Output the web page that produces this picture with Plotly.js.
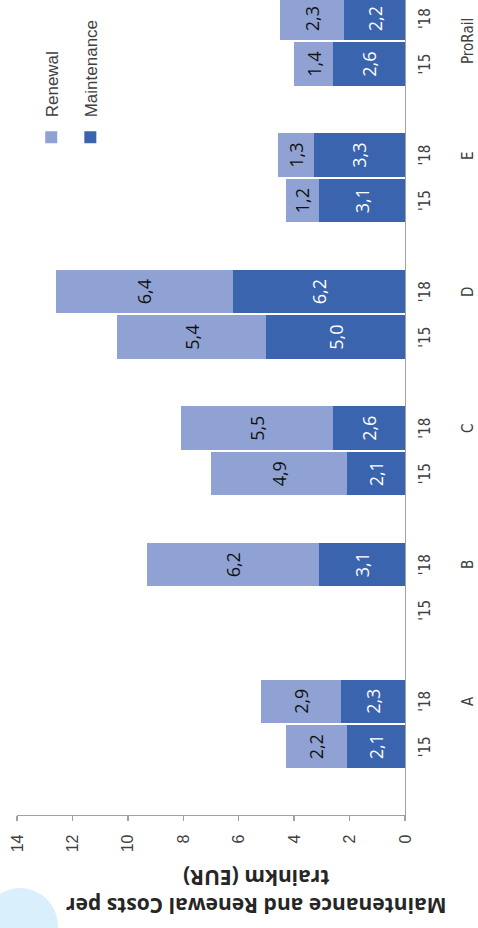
<!DOCTYPE html>
<html>
<head>
<meta charset="utf-8">
<script src="https://cdn.plot.ly/plotly-3.0.1.min.js"></script>
<style>
  html, body { margin: 0; padding: 0; width: 478px; height: 928px; overflow: hidden; background: #ffffff; }
  #chart { position: absolute; left: 0; top: 0; width: 928px; height: 478px;
           transform-origin: 0 0; transform: translateY(928px) rotate(-90deg); }
</style>
</head>
<body>
<div id="chart"></div>
<script>
// ---- data ----
const groups = ['A', 'B', 'C', 'D', 'E', 'ProRail'];
const years = ["'15", "'18"];
const maintenance = [2.1, 2.3, null, 3.1, 2.1, 2.6, 5.0, 6.2, 3.1, 3.3, 2.6, 2.2];
const renewal     = [2.2, 2.9, null, 6.2, 4.9, 5.5, 5.4, 6.4, 1.2, 1.3, 1.4, 2.3];
const yTicks = [0, 2, 4, 6, 8, 10, 12, 14];

// ---- category slot positions (each group: '15, '18, blank gap) ----
const slots = [], slotText = [];
groups.forEach((g, gi) => years.forEach((yr, yi) => { slots.push(gi * 3 + yi); slotText.push(yr); }));
const groupCenters = groups.map((g, gi) => gi < groups.length - 1 ? gi * 3 + 1 : gi * 3 + 0.5);

const darkBlue = '#3a64ad';
const lightBlue = '#8fa2d3';
const textGrey = '#404040';
const axisGrey = '#a0a0a0';
const narrowFont = '"DejaVu Sans Condensed", "Liberation Sans Narrow", "Roboto", "Liberation Sans", sans-serif';

const traces = [
  { type: 'bar', name: 'Maintenance', x: slots, y: maintenance, legendgroup: 'm', legendrank: 2,
    marker: { color: darkBlue, line: { width: 0 } },
    texttemplate: '%{y:.1f}', textposition: 'inside', insidetextanchor: 'middle', textangle: 0,
    textfont: { family: 'Open Sans', size: 18, color: '#ffffff' }, hoverinfo: 'skip' },
  { type: 'bar', name: 'Renewal', x: slots, y: renewal, legendgroup: 'r', legendrank: 1,
    marker: { color: lightBlue, line: { width: 0 } },
    texttemplate: '%{y:.1f}', textposition: 'inside', insidetextanchor: 'middle', textangle: 0,
    textfont: { family: 'Open Sans', size: 18, color: '#111111' }, hoverinfo: 'skip' }
];

const annotations = groups.map((g, gi) => ({
  text: g, x: groupCenters[gi], xref: 'x', y: -0.162, yref: 'paper',
  xanchor: 'center', yanchor: 'middle', showarrow: false,
  font: { family: narrowFont, size: 15, color: textGrey }
}));
annotations.push({
  text: 'Maintenance and Renewal Costs per<br>trainkm (EUR)',
  xref: 'paper', x: -0.0951, yref: 'paper', y: 0.384,
  xanchor: 'center', yanchor: 'middle', textangle: -90, showarrow: false,
  font: { family: 'Open Sans', size: 21, color: '#262626', weight: 'bold' }
});

const layout = {
  width: 928, height: 478,
  margin: { l: 113, r: 0, t: 17, b: 73, pad: 0 },
  paper_bgcolor: '#ffffff', plot_bgcolor: '#ffffff',
  barmode: 'stack', bargap: 0.045,
  separators: ',.',
  showlegend: true,
  legend: { x: 0.807, xanchor: 'left', y: 0.957, yanchor: 'top',
            traceorder: 'grouped', tracegroupgap: 14,
            bgcolor: 'rgba(0,0,0,0)',
            font: { family: 'Liberation Sans', size: 17, color: textGrey } },
  xaxis: { range: [-1.5, 16.41], tickmode: 'array', tickvals: slots, ticktext: slotText,
           showline: true, linecolor: axisGrey, linewidth: 1.3, ticks: '',
           showgrid: false, zeroline: false, fixedrange: true, ticklabelstandoff: 6,
           tickfont: { family: narrowFont, size: 15, color: textGrey } },
  yaxis: { range: [0, 14], tickmode: 'array', tickvals: yTicks,
           showline: true, linecolor: axisGrey, linewidth: 1.3,
           ticks: 'outside', ticklen: 5, tickcolor: axisGrey, tickwidth: 1.3,
           showgrid: false, zeroline: false, fixedrange: true, ticklabelstandoff: 10,
           tickfont: { family: 'Liberation Sans', size: 16, color: textGrey } },
  shapes: [{ type: 'circle', layer: 'below', xref: 'paper', yref: 'paper',
             xsizemode: 'pixel', ysizemode: 'pixel',
             xanchor: (2 - 113) / 815, yanchor: (405 - 20) / 388,
             x0: -38, x1: 38, y0: -38, y1: 38,
             fillcolor: '#d9effb', line: { width: 0 } }],
  annotations: annotations
};

Plotly.newPlot('chart', traces, layout, { staticPlot: true, displayModeBar: false });
</script>
</body>
</html>
